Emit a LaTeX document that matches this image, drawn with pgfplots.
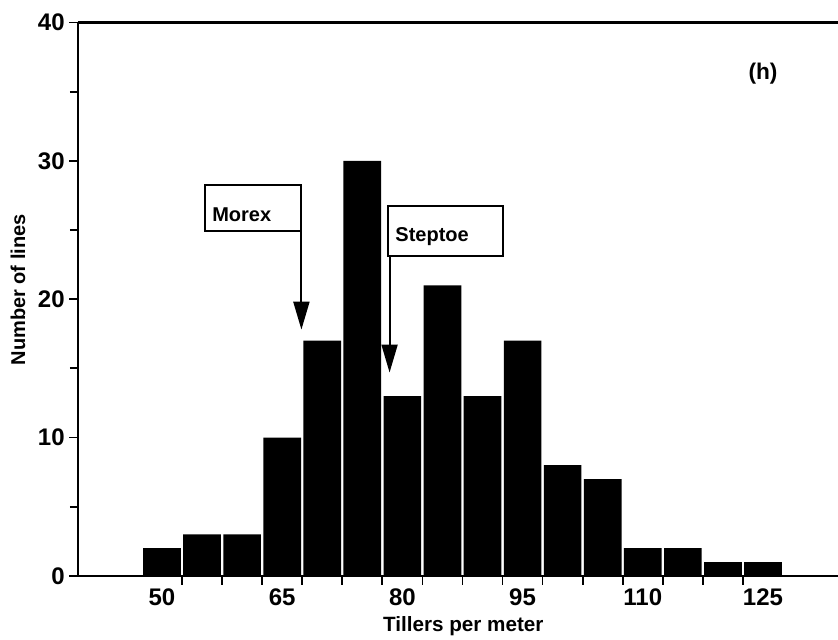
\documentclass[border=0pt]{standalone}
\usepackage{fontspec}
\setmainfont{Liberation Sans}
\usepackage{pgfplots}
\pgfplotsset{compat=1.18}
\usepackage{pgfplotstable}
\usetikzlibrary{arrows.meta,calc}

\pgfplotstableread{
x y
50 2
55 3
60 3
65 10
70 17
75 30
80 13
85 21
90 13
95 17
100 8
105 7
110 2
115 2
120 1
125 1
}\datatable

\begin{document}
\begin{tikzpicture}
\begin{axis}[
  scale only axis, width=570pt, height=415pt,
  xmin=39.52, xmax=134.36, ymin=0, ymax=40,
  axis lines=left, axis line style={-, line width=1.6pt},
  clip=false,
  tick align=outside,
  major tick length=6.5pt, minor tick length=6pt,
  tick style={line width=1.3pt, black},
  ytick={0,10,20,30,40}, minor ytick={5,15,25,35},
  xtick={52.5,57.5,62.5,67.5,72.5,77.5,82.5,87.5,92.5,97.5,102.5,107.5,112.5,117.5,122.5},
  xticklabels={},
  extra x ticks={50,65,80,95,110,125},
  extra x tick style={major tick length=0pt},
  /pgf/number format/assume math mode=true,
  tick label style={font=\fontsize{18}{18}\selectfont\bfseries},
  xticklabel style={yshift=-6pt},
]
\addplot[ybar, bar width=4.7, fill=black, draw=none] table[x=x,y=y] {\datatable};

\draw[line width=1.6pt] (rel axis cs:0,1) -- (rel axis cs:1,1);

% Morex annotation
\draw[line width=1.5pt, fill=white] (axis cs:55.4,28.25) rectangle (axis cs:67.4,24.93);
\node[anchor=base west, inner sep=0pt, font=\fontsize{15}{15}\selectfont\bfseries] at (axis cs:56.25,25.65) {Morex};
\draw[line width=1.5pt, -{Triangle[length=21pt, width=12pt]}] (axis cs:67.4,24.93) -- (axis cs:67.4,17.8);

% Steptoe annotation
\draw[line width=1.5pt, fill=white] (axis cs:78.25,26.73) rectangle (axis cs:92.5,23.12);
\node[anchor=base west, inner sep=0pt, font=\fontsize{15}{15}\selectfont\bfseries] at (axis cs:79.1,24.16) {Steptoe};
\draw[line width=1.5pt, -{Triangle[length=21pt, width=12pt]}] (axis cs:78.4,23.12) -- (axis cs:78.4,14.7);

\node[font=\fontsize{17}{17}\selectfont\bfseries] at (axis cs:125,36.3) {(h)};

\node[rotate=90, anchor=center, font=\fontsize{15}{15}\selectfont\bfseries] at (axis description cs:-0.079,0.517) {Number of lines};
\node[anchor=base, font=\fontsize{15.5}{15.5}\selectfont\bfseries] at (axis description cs:0.507,-0.101) {Tillers per meter};
\end{axis}
\pgfresetboundingbox
\path[use as bounding box] ($(current axis.south west)+(-58.5pt,-48pt)$) rectangle ($(current axis.north east)+(0pt,16.9pt)$);
\end{tikzpicture}
\end{document}
